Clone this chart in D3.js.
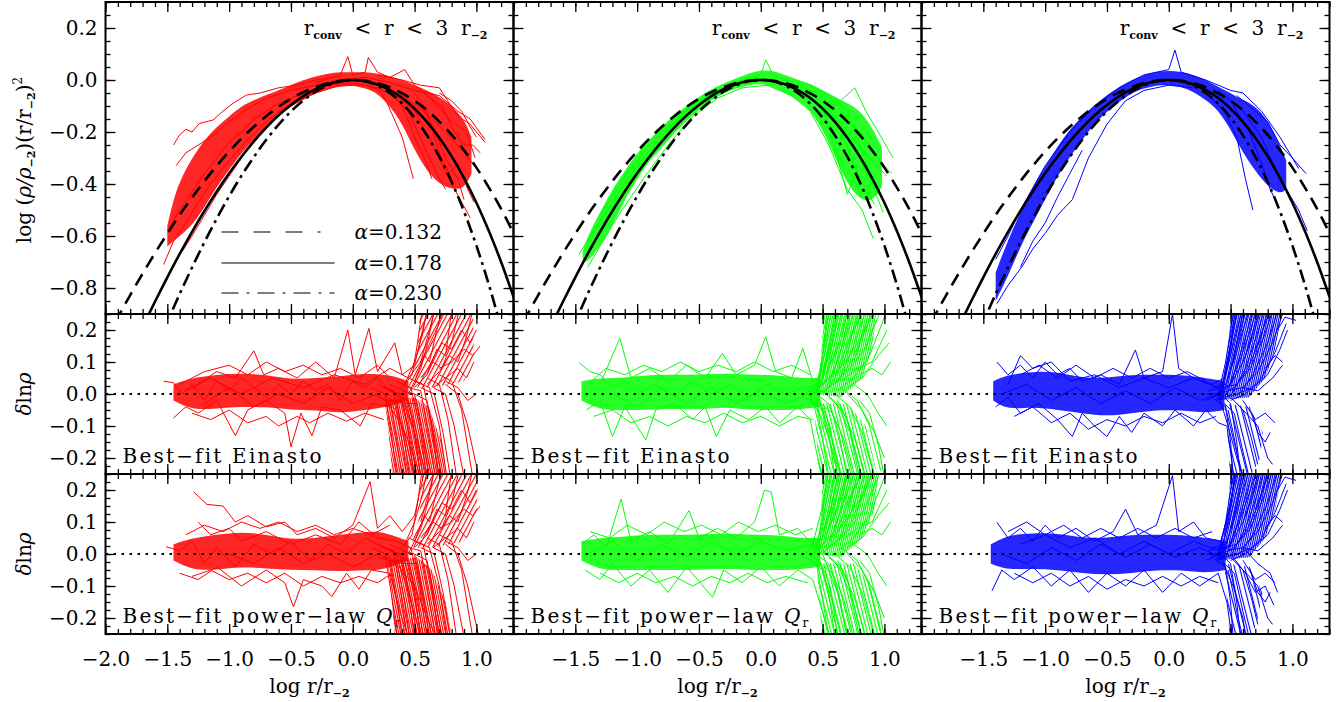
<!DOCTYPE html>
<html>
<head>
<meta charset="utf-8">
<script src="https://cdn.jsdelivr.net/npm/d3@7"></script>
<style>
body { margin: 0; background: #fff; }
text { font-family: "DejaVu Serif", serif; }
</style>
</head>
<body>
<svg id="fig" width="1339" height="702"></svg>
<script>
// ---- tick values
const xTicksMajor = [-2.0, -1.5, -1.0, -0.5, 0.0, 0.5, 1.0]
const xLabelsLeft = [-2.0, -1.5, -1.0, -0.5, 0.0, 0.5, 1.0]
const xLabelsOther = [-1.5, -1.0, -0.5, 0.0, 0.5, 1.0]
const yTicksTop = [-0.8, -0.6, -0.4, -0.2, 0.0, 0.2]
const yTicksRes = [-0.2, -0.1, 0.0, 0.1, 0.2]

// ---- Einasto reference curves (log r/r-2 -> value)
const einX = [-2.0,-1.9,-1.8,-1.7,-1.6,-1.5,-1.4,-1.3,-1.2,-1.1,-1.0,-0.9,-0.8,-0.7,-0.6,-0.5,-0.4,-0.3,-0.2,-0.1,0.0,0.1,0.2,0.3,0.4,0.5,0.6,0.7,0.8,0.9,1.0,1.1,1.2,1.3]
const ein132 = [-1.003,-0.913,-0.827,-0.745,-0.666,-0.591,-0.519,-0.452,-0.389,-0.330,-0.275,-0.225,-0.180,-0.139,-0.103,-0.072,-0.047,-0.027,-0.012,-0.003,0,-0.003,-0.012,-0.028,-0.051,-0.080,-0.116,-0.160,-0.211,-0.270,-0.337,-0.413,-0.496,-0.589]
const ein178 = [-1.270,-1.160,-1.054,-0.951,-0.853,-0.759,-0.669,-0.584,-0.504,-0.429,-0.359,-0.295,-0.236,-0.183,-0.136,-0.096,-0.062,-0.035,-0.016,-0.004,0,-0.004,-0.017,-0.039,-0.069,-0.110,-0.161,-0.222,-0.294,-0.377,-0.472,-0.580,-0.700,-0.834]
const ein230 = [-1.533,-1.404,-1.279,-1.159,-1.042,-0.930,-0.823,-0.721,-0.624,-0.533,-0.447,-0.368,-0.296,-0.230,-0.172,-0.121,-0.079,-0.045,-0.021,-0.005,0,-0.005,-0.022,-0.050,-0.091,-0.145,-0.213,-0.295,-0.392,-0.506,-0.637,-0.786,-0.954,-1.142]
const alphaLabels = ['0.132', '0.178', '0.230']

// ---- profile bundles: dense core [x, lo, hi] + individual haloes [x, y]
const redTopBand = [[-1.5,-0.64,-0.56],[-1.45,-0.62,-0.46],[-1.4,-0.6,-0.39],[-1.3,-0.56,-0.3],[-1.2,-0.49,-0.23],[-1.1,-0.41,-0.18],[-1.0,-0.345,-0.14],[-0.9,-0.28,-0.1],[-0.8,-0.23,-0.077],[-0.7,-0.18,-0.058],[-0.6,-0.14,-0.04],[-0.5,-0.1,-0.019],[-0.4,-0.077,0.0],[-0.3,-0.051,0.013],[-0.2,-0.032,0.026],[-0.1,-0.026,0.03],[0.0,-0.02,0.03],[0.1,-0.032,0.03],[0.2,-0.05,0.026],[0.3,-0.1,0.013],[0.4,-0.167,0.0],[0.5,-0.27,-0.019],[0.6,-0.35,-0.04],[0.7,-0.4,-0.064],[0.8,-0.42,-0.1],[0.9,-0.42,-0.15],[0.96,-0.36,-0.22]]
const redTopLines = [
  [[-1.45,-0.25],[-1.4,-0.21],[-1.35,-0.19],[-1.3,-0.2],[-1.24,-0.167],[-1.13,-0.154],[-1.05,-0.12],[-0.97,-0.09],[-0.86,-0.058],[-0.75,-0.05],[-0.6,-0.03],[-0.45,-0.02],[-0.3,0.0],[-0.15,0.01]],
  [[-1.43,-0.33],[-1.35,-0.28],[-1.25,-0.25],[-1.15,-0.22],[-1.0,-0.16],[-0.85,-0.11],[-0.7,-0.07],[-0.5,-0.04],[-0.3,-0.02],[-0.1,0.0],[0.1,0.01],[0.3,-0.01],[0.5,-0.04],[0.7,-0.06],[0.85,-0.12],[0.95,-0.15],[1.07,-0.23]],
  [[-1.53,-0.71],[-1.45,-0.62],[-1.35,-0.55],[-1.25,-0.47],[-1.15,-0.40],[-1.0,-0.31],[-0.85,-0.23],[-0.7,-0.16],[-0.5,-0.09],[-0.3,-0.05],[-0.1,-0.02],[0.1,-0.02],[0.3,-0.05],[0.45,-0.12],[0.6,-0.28],[0.7,-0.38],[0.75,-0.42]],
  [[-0.2,-0.02],[0.0,-0.01],[0.2,-0.03],[0.27,-0.08],[0.4,-0.22],[0.49,-0.38]],
  [[0.3,-0.04],[0.5,-0.12],[0.65,-0.25],[0.8,-0.4],[0.95,-0.53]],
  [[0.2,0.02],[0.4,0.0],[0.55,-0.02],[0.7,-0.03],[0.85,-0.14],[0.95,-0.17],[1.0,-0.2],[1.07,-0.24]],
  [[-0.3,-0.01],[-0.1,0.02],[-0.04,0.09],[0.0,0.02],[0.1,0.03],[0.126,0.087],[0.2,0.03],[0.3,0.01],[0.42,0.04],[0.5,-0.02],[0.65,-0.08],[0.8,-0.16],[0.92,-0.2],[0.99,-0.3]],
  [[-1.5,-0.58],[-1.4,-0.5],[-1.3,-0.43],[-1.2,-0.36],[-1.1,-0.3],[-1.0,-0.24],[-0.9,-0.2],[-0.8,-0.15],[-0.6,-0.09],[-0.4,-0.05],[-0.2,-0.02],[0.0,0.0],[0.2,-0.02],[0.4,-0.06],[0.6,-0.13],[0.75,-0.2],[0.9,-0.28],[1.0,-0.34]],
  [[0.5,-0.05],[0.6,-0.12],[0.7,-0.28],[0.78,-0.36],[0.85,-0.32],[0.93,-0.42],[0.98,-0.47]],
  [[0.6,-0.06],[0.72,-0.1],[0.82,-0.2],[0.9,-0.25],[0.97,-0.25],[1.03,-0.28]],
  [[-1.38,-0.66],[-1.3,-0.6],[-1.2,-0.52],[-1.1,-0.44],[-1.0,-0.37],[-0.9,-0.3]],
  [[0.3,-0.03],[0.4,-0.1],[0.5,-0.22],[0.58,-0.3],[0.64,-0.38]],
  [[0.55,-0.1],[0.65,-0.18],[0.75,-0.3],[0.85,-0.38],[0.9,-0.46]],
  [[0.7,-0.05],[0.8,-0.08],[0.88,-0.12],[0.95,-0.18],[1.0,-0.22]]
]

const greenTopBand = [[-1.44,-0.70,-0.66],[-1.4,-0.70,-0.60],[-1.3,-0.64,-0.51],[-1.2,-0.56,-0.42],[-1.1,-0.46,-0.35],[-1.0,-0.38,-0.28],[-0.9,-0.31,-0.23],[-0.8,-0.26,-0.18],[-0.7,-0.205,-0.135],[-0.6,-0.155,-0.10],[-0.5,-0.115,-0.064],[-0.4,-0.077,-0.036],[-0.3,-0.05,-0.013],[-0.2,-0.032,0.006],[-0.1,-0.02,0.025],[0.0,-0.013,0.038],[0.1,-0.026,0.036],[0.2,-0.05,0.019],[0.3,-0.077,0.0],[0.4,-0.115,-0.013],[0.5,-0.19,-0.04],[0.6,-0.295,-0.064],[0.7,-0.40,-0.09],[0.8,-0.46,-0.115],[0.9,-0.47,-0.18],[0.98,-0.41,-0.26]]
const greenTopLines = [
  [[-1.47,-0.67],[-1.35,-0.58],[-1.2,-0.47],[-1.0,-0.33],[-0.8,-0.21],[-0.6,-0.12],[-0.4,-0.05],[-0.2,-0.01],[0.0,0.02],[0.04,0.077],[0.1,0.02],[0.3,-0.02],[0.45,-0.05],[0.6,-0.1],[0.76,-0.03],[0.85,-0.12],[0.95,-0.2],[1.07,-0.3]],
  [[-1.4,-0.72],[-1.3,-0.64],[-1.15,-0.52],[-0.95,-0.38],[-0.75,-0.25],[-0.55,-0.14],[-0.35,-0.07],[-0.15,-0.03],[0.05,-0.02],[0.25,-0.06],[0.4,-0.12],[0.55,-0.25],[0.7,-0.42],[0.82,-0.5],[0.91,-0.61]],
  [[0.3,-0.03],[0.5,-0.08],[0.65,-0.18],[0.8,-0.3],[0.9,-0.4],[0.99,-0.51]],
  [[0.4,-0.02],[0.55,-0.06],[0.7,-0.15],[0.8,-0.2],[0.9,-0.27],[1.0,-0.33],[1.06,-0.36]],
  [[0.5,-0.1],[0.62,-0.3],[0.7,-0.44],[0.75,-0.38],[0.82,-0.45]],
  [[-1.3,-0.52],[-1.1,-0.37],[-0.9,-0.25],[-0.7,-0.15],[-0.5,-0.08],[-0.3,-0.03],[-0.1,0.01],[0.1,0.0],[0.3,-0.04],[0.5,-0.1],[0.7,-0.2],[0.9,-0.31],[1.02,-0.37]],
  [[0.6,-0.07],[0.7,-0.12],[0.8,-0.25],[0.88,-0.35],[0.95,-0.44]],
  [[0.65,-0.2],[0.75,-0.32],[0.85,-0.42],[0.92,-0.48]]
]

const blueTopBand = [[-1.4,-0.85,-0.74],[-1.3,-0.756,-0.615],[-1.2,-0.64,-0.51],[-1.1,-0.55,-0.41],[-1.0,-0.46,-0.333],[-0.9,-0.37,-0.256],[-0.8,-0.295,-0.19],[-0.7,-0.23,-0.14],[-0.6,-0.167,-0.096],[-0.5,-0.122,-0.058],[-0.4,-0.083,-0.026],[-0.3,-0.05,0.0],[-0.2,-0.032,0.02],[-0.1,-0.02,0.032],[0.0,-0.02,0.036],[0.1,-0.026,0.032],[0.2,-0.045,0.02],[0.3,-0.077,0.0],[0.4,-0.115,-0.026],[0.5,-0.19,-0.05],[0.6,-0.28,-0.077],[0.7,-0.35,-0.10],[0.8,-0.41,-0.154],[0.9,-0.44,-0.25],[0.95,-0.42,-0.31]]
const blueTopLines = [
  [[-1.39,-0.86],[-1.3,-0.79],[-1.19,-0.72],[-1.1,-0.65],[-1.0,-0.59],[-0.9,-0.52],[-0.78,-0.46],[-0.65,-0.3],[-0.5,-0.17],[-0.35,-0.08],[-0.2,-0.04],[0.0,-0.02],[0.2,-0.03]],
  [[-1.4,-0.69],[-1.3,-0.6],[-1.2,-0.5],[-1.0,-0.33],[-0.8,-0.2],[-0.6,-0.1],[-0.4,-0.03],[-0.2,0.02],[0.0,0.04],[0.05,0.115],[0.1,0.03],[0.3,0.0],[0.5,-0.04],[0.6,-0.05],[0.75,-0.12],[0.9,-0.22],[1.0,-0.3],[1.11,-0.36]],
  [[0.3,-0.05],[0.45,-0.12],[0.55,-0.22],[0.62,-0.38],[0.68,-0.5]],
  [[0.4,-0.04],[0.6,-0.12],[0.75,-0.22],[0.85,-0.33],[0.95,-0.42],[1.05,-0.5],[1.12,-0.58]],
  [[0.5,-0.08],[0.65,-0.2],[0.75,-0.32],[0.82,-0.42],[0.88,-0.48]],
  [[0.55,-0.06],[0.7,-0.12],[0.8,-0.16],[0.9,-0.25],[1.0,-0.3],[1.05,-0.34]],
  [[-1.2,-0.72],[-1.1,-0.62],[-1.0,-0.55],[-0.9,-0.45],[-0.8,-0.36],[-0.7,-0.27]]
]

// ---- residuals: fans beyond r_-2 (same haloes in both residual rows)
const redFanLines = [
  [[0.15,0.02],[0.26,0.0],[0.31,-0.12],[0.36,-0.26]],
  [[0.2,-0.01],[0.3,-0.02],[0.35,-0.13],[0.4,-0.26]],
  [[0.2,0.03],[0.33,0.01],[0.38,-0.1],[0.44,-0.26]],
  [[0.25,0.0],[0.36,-0.03],[0.42,-0.15],[0.46,-0.26]],
  [[0.25,0.02],[0.38,0.0],[0.44,-0.1],[0.5,-0.26]],
  [[0.3,-0.02],[0.4,-0.02],[0.47,-0.14],[0.52,-0.26]],
  [[0.3,0.03],[0.42,0.01],[0.48,-0.08],[0.55,-0.26]],
  [[0.35,0.0],[0.45,-0.02],[0.52,-0.13],[0.57,-0.26]],
  [[0.35,0.04],[0.47,0.02],[0.54,-0.1],[0.6,-0.26]],
  [[0.4,0.01],[0.5,0.0],[0.56,-0.12],[0.62,-0.26]],
  [[0.4,-0.03],[0.52,-0.03],[0.58,-0.15],[0.64,-0.26]],
  [[0.45,0.02],[0.55,0.01],[0.6,-0.1],[0.67,-0.26]],
  [[0.45,0.05],[0.57,0.03],[0.63,-0.09],[0.7,-0.26]],
  [[0.5,0.0],[0.6,-0.02],[0.66,-0.13],[0.72,-0.26]],
  [[0.5,0.04],[0.62,0.02],[0.7,-0.1],[0.76,-0.26]],
  [[0.55,0.02],[0.66,0.0],[0.73,-0.12],[0.79,-0.26]],
  [[0.6,0.05],[0.7,0.03],[0.77,-0.08],[0.84,-0.26]],
  [[0.65,0.02],[0.75,0.0],[0.82,-0.1],[0.9,-0.26]],
  [[0.7,0.06],[0.8,0.04],[0.88,-0.05],[0.97,-0.26]],
  [[0.75,0.03],[0.85,0.0],[0.93,-0.1],[1.02,-0.26]],
  [[0.3,0.01],[0.4,0.0],[0.45,-0.06],[0.5,-0.12],[0.55,-0.26]],
  [[0.55,-0.02],[0.62,-0.05],[0.66,-0.16],[0.69,-0.26]],
  [[0.4,0.02],[0.48,0.06],[0.52,0.15],[0.56,0.26]],
  [[0.42,0.03],[0.5,0.1],[0.56,0.18],[0.6,0.26]],
  [[0.45,0.0],[0.55,0.08],[0.6,0.15],[0.66,0.26]],
  [[0.5,0.04],[0.58,0.12],[0.62,0.1],[0.68,0.2],[0.72,0.26]],
  [[0.5,0.02],[0.6,0.06],[0.68,0.14],[0.75,0.12],[0.8,0.26]],
  [[0.55,0.05],[0.65,0.1],[0.72,0.08],[0.8,0.16],[0.86,0.26]],
  [[0.6,0.03],[0.7,0.07],[0.78,0.12],[0.85,0.1],[0.92,0.18],[0.97,0.26]],
  [[0.6,0.06],[0.72,0.16],[0.8,0.14],[0.88,0.2],[0.95,0.16],[1.0,0.2]],
  [[0.65,0.02],[0.75,0.05],[0.85,0.08],[0.92,0.05],[0.98,0.1]],
  [[0.7,0.08],[0.8,0.1],[0.9,0.14],[0.97,0.12],[1.03,0.15]],
  [[0.75,0.04],[0.85,0.02],[0.93,-0.02],[1.0,0.0]],
  [[0.55,0.1],[0.62,0.2],[0.66,0.26]]
]
const greenFanLines = [
  [[0.35,0.0],[0.45,0.02],[0.5,0.12],[0.54,0.26]],
  [[0.38,0.02],[0.47,0.03],[0.52,0.14],[0.57,0.26]],
  [[0.4,-0.01],[0.48,0.02],[0.55,0.14],[0.6,0.26]],
  [[0.4,0.02],[0.5,0.05],[0.57,0.15],[0.63,0.26]],
  [[0.42,0.0],[0.52,0.04],[0.6,0.16],[0.66,0.26]],
  [[0.45,0.03],[0.54,0.07],[0.62,0.15],[0.7,0.26]],
  [[0.45,-0.01],[0.56,0.04],[0.65,0.14],[0.73,0.26]],
  [[0.48,0.02],[0.58,0.06],[0.67,0.16],[0.76,0.26]],
  [[0.5,0.0],[0.6,0.05],[0.7,0.13],[0.79,0.26]],
  [[0.5,0.03],[0.62,0.08],[0.72,0.17],[0.82,0.26]],
  [[0.52,0.01],[0.64,0.05],[0.74,0.14],[0.85,0.26]],
  [[0.55,0.02],[0.66,0.06],[0.77,0.12],[0.88,0.26]],
  [[0.55,0.04],[0.68,0.1],[0.8,0.17],[0.92,0.26]],
  [[0.6,0.03],[0.72,0.08],[0.84,0.14],[0.97,0.26]],
  [[0.62,0.01],[0.75,0.05],[0.88,0.12],[1.0,0.24]],
  [[0.65,0.04],[0.78,0.08],[0.9,0.1],[1.02,0.2]],
  [[0.7,0.02],[0.82,0.05],[0.95,0.12],[1.04,0.16]],
  [[0.48,0.06],[0.56,0.12],[0.6,0.2],[0.64,0.26]],
  [[0.58,0.1],[0.66,0.18],[0.7,0.26]],
  [[0.75,0.12],[0.85,0.2],[0.9,0.26]],
  [[0.8,0.06],[0.9,0.08],[0.98,0.06],[1.05,0.1]],
  [[0.68,0.15],[0.78,0.22],[0.82,0.26]],
  [[0.35,-0.01],[0.45,-0.03],[0.5,-0.14],[0.55,-0.26]],
  [[0.38,0.0],[0.48,-0.02],[0.55,-0.12],[0.6,-0.26]],
  [[0.4,-0.02],[0.5,-0.05],[0.58,-0.15],[0.65,-0.26]],
  [[0.45,0.0],[0.55,-0.03],[0.63,-0.12],[0.7,-0.26]],
  [[0.45,-0.02],[0.58,-0.06],[0.67,-0.14],[0.75,-0.26]],
  [[0.5,0.01],[0.62,-0.03],[0.72,-0.12],[0.8,-0.26]],
  [[0.55,-0.01],[0.66,-0.05],[0.76,-0.14],[0.85,-0.26]],
  [[0.6,0.0],[0.72,-0.04],[0.82,-0.12],[0.92,-0.26]],
  [[0.65,0.02],[0.78,-0.02],[0.88,-0.1],[0.97,-0.24]],
  [[0.7,0.0],[0.82,-0.05],[0.92,-0.12],[1.0,-0.2]],
  [[0.75,0.03],[0.86,0.0],[0.95,-0.06],[1.02,-0.1]],
  [[0.5,-0.04],[0.56,-0.1],[0.6,-0.2],[0.62,-0.26]],
  [[0.62,-0.02],[0.7,-0.08],[0.78,-0.2],[0.82,-0.26]],
  [[0.8,-0.02],[0.88,-0.06],[0.95,-0.16],[1.0,-0.26]]
]
const blueFanLines = [
  [[0.3,0.0],[0.4,0.0],[0.46,0.1],[0.5,0.2],[0.53,0.26]],
  [[0.3,-0.02],[0.42,0.0],[0.48,0.1],[0.52,0.2],[0.56,0.26]],
  [[0.32,0.01],[0.43,0.02],[0.5,0.12],[0.55,0.2],[0.59,0.26]],
  [[0.34,-0.01],[0.45,0.01],[0.52,0.1],[0.58,0.2],[0.62,0.26]],
  [[0.35,0.02],[0.46,0.03],[0.54,0.12],[0.6,0.2],[0.65,0.26]],
  [[0.36,-0.02],[0.47,0.0],[0.56,0.1],[0.63,0.19],[0.68,0.26]],
  [[0.38,0.0],[0.48,0.02],[0.58,0.11],[0.66,0.2],[0.71,0.26]],
  [[0.4,0.01],[0.5,0.03],[0.6,0.1],[0.68,0.18],[0.74,0.26]],
  [[0.4,-0.02],[0.51,0.0],[0.62,0.08],[0.71,0.18],[0.77,0.26]],
  [[0.42,0.0],[0.53,0.02],[0.64,0.08],[0.74,0.17],[0.8,0.26]],
  [[0.44,0.02],[0.55,0.03],[0.66,0.08],[0.77,0.18],[0.84,0.26]],
  [[0.45,-0.01],[0.57,0.0],[0.68,0.06],[0.8,0.16],[0.88,0.26]],
  [[0.48,0.01],[0.6,0.02],[0.72,0.07],[0.84,0.16],[0.93,0.26]],
  [[0.5,-0.02],[0.62,0.0],[0.75,0.05],[0.86,0.13],[0.95,0.22]],
  [[0.55,0.0],[0.68,0.02],[0.8,0.06],[0.9,0.14],[0.96,0.2]],
  [[0.6,0.02],[0.72,0.01],[0.84,0.05],[0.92,0.09]],
  [[0.45,0.06],[0.5,0.16],[0.54,0.26]],
  [[0.5,0.08],[0.56,0.18],[0.6,0.26]],
  [[0.62,0.12],[0.7,0.22],[0.73,0.26]],
  [[0.7,0.14],[0.78,0.22],[0.82,0.26]],
  [[0.88,0.2],[0.94,0.24],[1.03,0.23]],
  [[0.78,0.08],[0.86,0.12],[0.92,0.1]],
  [[0.38,-0.02],[0.46,-0.04],[0.5,-0.15],[0.52,-0.26]],
  [[0.42,0.0],[0.5,-0.03],[0.55,-0.15],[0.58,-0.26]],
  [[0.45,-0.03],[0.53,-0.06],[0.6,-0.18],[0.65,-0.26]],
  [[0.5,-0.01],[0.6,-0.05],[0.67,-0.14],[0.72,-0.22]],
  [[0.55,-0.03],[0.65,-0.07],[0.72,-0.1],[0.8,-0.2],[0.84,-0.22]],
  [[0.6,-0.02],[0.7,-0.08],[0.78,-0.06],[0.86,-0.09]],
  [[0.48,-0.05],[0.52,-0.12],[0.56,-0.2],[0.6,-0.26]],
  [[0.65,-0.04],[0.72,-0.12],[0.78,-0.15],[0.82,-0.12]]
]

// ---- residuals, best-fit Einasto
const redEinBand = [[-1.45,-0.02,0.03],[-1.3,-0.05,0.05],[-1.1,-0.045,0.06],[-0.9,-0.04,0.065],[-0.7,-0.04,0.06],[-0.5,-0.05,0.045],[-0.3,-0.05,0.05],[-0.1,-0.06,0.055],[0.1,-0.05,0.065],[0.3,-0.04,0.06],[0.45,-0.02,0.04]]
const redEinDown = [[0.26,-0.02],[0.5,-0.01],[0.62,-0.05],[0.72,-0.15],[0.78,-0.3],[0.33,-0.3],[0.29,-0.12]]
const redEinUp = [[0.45,0.02],[0.52,0.12],[0.55,0.3],[0.97,0.3],[0.98,0.12],[0.9,0.04],[0.65,0.02]]
const redEinLines = [
  [[-1.53,0.04],[-1.45,0.035],[-1.38,0.0],[-1.3,0.03],[-1.2,-0.02],[-1.1,0.04],[-1.0,0.01],[-0.9,0.05],[-0.8,0.02],[-0.7,-0.01],[-0.6,0.03],[-0.5,0.0],[-0.4,0.04],[-0.3,0.01],[-0.2,0.03],[-0.1,-0.02],[0.0,0.04],[0.1,0.02],[0.2,0.05],[0.3,0.01],[0.4,-0.02],[0.5,-0.12],[0.6,-0.26]],
  [[-1.45,-0.075],[-1.35,-0.04],[-1.25,-0.06],[-1.1,-0.02],[-0.95,-0.13],[-0.85,-0.05],[-0.7,-0.02],[-0.55,-0.06],[-0.5,-0.165],[-0.42,-0.06],[-0.33,-0.13],[-0.25,-0.04],[-0.1,-0.05],[0.06,-0.1],[0.15,-0.03],[0.3,-0.04],[0.4,-0.1],[0.5,-0.26]],
  [[-1.3,0.02],[-1.1,0.07],[-0.95,0.05],[-0.8,0.135],[-0.72,0.06],[-0.6,0.08],[-0.45,0.05],[-0.3,0.1],[-0.15,0.05],[-0.04,0.2],[0.02,0.06],[0.13,0.205],[0.2,0.07],[0.34,0.16],[0.4,0.06],[0.5,0.09],[0.6,0.26]],
  [[-1.2,-0.03],[-1.0,0.02],[-0.8,-0.04],[-0.6,0.0],[-0.4,-0.03],[-0.2,0.02],[0.0,-0.03],[0.2,0.0],[0.35,-0.05],[0.45,-0.15],[0.55,-0.26]],
  [[-1.35,0.01],[-1.15,0.05],[-0.9,0.0],[-0.65,0.05],[-0.4,0.02],[-0.15,0.06],[0.1,0.03],[0.3,0.08],[0.45,0.05],[0.55,0.1],[0.65,0.18],[0.75,0.26]],
  [[-1.4,0.03],[-1.2,0.07],[-1.0,0.09],[-0.85,0.06],[-0.7,0.1],[-0.55,0.07],[-0.4,0.09],[-0.25,0.06],[-0.1,0.08],[0.05,0.05],[0.2,0.09],[0.3,0.05]],
  [[-1.3,-0.06],[-1.15,-0.08],[-1.0,-0.05],[-0.85,-0.09],[-0.7,-0.07],[-0.6,-0.1],[-0.45,-0.07],[-0.35,-0.09],[-0.2,-0.06],[-0.05,-0.085],[0.1,-0.06],[0.25,-0.08]]
]

const greenEinBand = [[-1.45,-0.02,0.04],[-1.3,-0.05,0.05],[-1.1,-0.05,0.05],[-0.9,-0.05,0.06],[-0.7,-0.045,0.06],[-0.5,-0.05,0.06],[-0.3,-0.04,0.065],[-0.1,-0.05,0.06],[0.1,-0.05,0.06],[0.3,-0.05,0.05],[0.48,-0.04,0.05]]
const greenEinUp = [[0.43,0.0],[0.48,0.08],[0.52,0.3],[0.95,0.3],[0.9,0.14],[0.82,0.05],[0.65,-0.01]]
const greenEinDown = [[0.42,-0.03],[0.7,-0.03],[0.85,-0.1],[0.97,-0.3],[0.47,-0.3],[0.45,-0.12]]
const greenEinLines = [
  [[-1.47,0.098],[-1.38,0.07],[-1.3,0.06],[-1.2,0.02],[-1.1,0.04],[-1.0,0.0],[-0.85,0.03],[-0.7,-0.01],[-0.55,0.04],[-0.4,0.0],[-0.25,0.03],[-0.1,-0.01],[0.05,0.03],[0.2,0.0],[0.35,0.02],[0.45,0.0],[0.5,0.12],[0.55,0.26]],
  [[-1.41,-0.05],[-1.3,-0.02],[-1.2,-0.133],[-1.1,-0.04],[-0.93,-0.144],[-0.85,-0.05],[-0.7,-0.03],[-0.55,-0.08],[-0.45,-0.04],[-0.36,-0.133],[-0.25,-0.05],[-0.1,-0.08],[0.04,-0.04],[0.15,-0.09],[0.3,-0.04],[0.4,-0.08],[0.45,-0.18],[0.5,-0.26]],
  [[-1.3,0.03],[-1.14,0.174],[-1.05,0.05],[-0.9,0.08],[-0.75,0.04],[-0.6,0.09],[-0.45,0.05],[-0.31,0.127],[-0.2,0.06],[-0.05,0.09],[0.04,0.179],[0.12,0.07],[0.25,0.05],[0.34,0.143],[0.42,0.04],[0.5,0.06],[0.58,0.2],[0.62,0.26]],
  [[-1.2,0.0],[-1.0,-0.04],[-0.8,0.02],[-0.6,-0.03],[-0.4,0.02],[-0.2,-0.03],[0.0,0.01],[0.2,-0.03],[0.38,0.0],[0.5,-0.08],[0.6,-0.2],[0.65,-0.26]],
  [[-1.4,0.03],[-1.25,0.08],[-1.1,0.06],[-0.95,0.09],[-0.8,0.07],[-0.65,0.1],[-0.5,0.07],[-0.35,0.09],[-0.2,0.07],[-0.05,0.1],[0.1,0.07],[0.25,0.09],[0.4,0.06]],
  [[-1.35,-0.07],[-1.2,-0.05],[-1.05,-0.09],[-0.9,-0.07],[-0.75,-0.1],[-0.6,-0.07],[-0.45,-0.09],[-0.3,-0.06],[-0.15,-0.09],[0.0,-0.07],[0.15,-0.1],[0.3,-0.07],[0.42,-0.08]]
]

const blueEinBand = [[-1.42,-0.02,0.04],[-1.3,-0.05,0.06],[-1.1,-0.04,0.07],[-0.9,-0.05,0.07],[-0.7,-0.06,0.05],[-0.5,-0.07,0.05],[-0.3,-0.06,0.06],[-0.1,-0.05,0.06],[0.1,-0.05,0.06],[0.3,-0.06,0.05],[0.45,-0.05,0.04]]
const blueEinUp = [[0.39,-0.02],[0.44,0.06],[0.48,0.15],[0.52,0.3],[0.94,0.3],[0.86,0.14],[0.78,0.05],[0.65,-0.01]]
const blueEinDown = [[0.45,-0.03],[0.65,-0.04],[0.76,-0.12],[0.74,-0.2],[0.6,-0.3],[0.5,-0.3],[0.48,-0.15]]
const blueEinLines = [
  [[-1.39,0.1],[-1.3,0.06],[-1.2,0.09],[-1.1,0.05],[-1.0,0.1],[-0.9,0.06],[-0.8,0.08],[-0.7,0.04],[-0.55,0.06],[-0.4,0.03],[-0.27,0.1375],[-0.2,0.05],[-0.05,0.07],[0.03,0.25],[0.08,0.08],[0.2,0.05],[0.35,0.03],[0.45,0.05],[0.5,0.14],[0.55,0.26]],
  [[-1.4,-0.04],[-1.3,-0.01],[-1.2,-0.06],[-1.05,-0.03],[-0.9,-0.08],[-0.78,-0.133],[-0.7,-0.06],[-0.6,-0.1],[-0.5,-0.133],[-0.4,-0.07],[-0.3,-0.12],[-0.2,-0.06],[-0.05,-0.1],[0.05,-0.05],[0.2,-0.1],[0.3,-0.05],[0.4,-0.09],[0.47,-0.1],[0.52,-0.24],[0.54,-0.26]],
  [[-1.35,0.0],[-1.15,0.03],[-0.95,-0.02],[-0.75,0.02],[-0.55,-0.03],[-0.35,0.01],[-0.15,-0.03],[0.05,0.02],[0.25,-0.02],[0.4,0.0],[0.48,-0.1],[0.55,-0.2],[0.6,-0.26]],
  [[-1.3,0.03],[-1.2,0.12],[-1.1,0.08],[-0.95,0.1],[-0.8,0.04],[-0.6,0.06],[-0.4,0.02],[-0.2,0.05],[0.0,0.02],[0.2,0.05],[0.4,0.02]],
  [[-1.25,-0.07],[-1.1,-0.04],[-0.95,-0.09],[-0.8,-0.06],[-0.65,-0.11],[-0.5,-0.08],[-0.35,-0.1],[-0.2,-0.07],[-0.05,-0.09],[0.1,-0.06],[0.25,-0.09],[0.38,-0.07]],
  [[-1.2,0.06],[-1.05,0.09],[-0.9,0.05],[-0.75,0.09],[-0.6,0.05],[-0.45,0.08],[-0.3,0.05],[-0.15,0.08],[0.0,0.05],[0.15,0.07],[0.3,0.04]]
]

// ---- residuals, best-fit power-law Q_r
const redQBand = [[-1.45,-0.02,0.03],[-1.3,-0.05,0.05],[-1.1,-0.05,0.06],[-0.9,-0.04,0.07],[-0.7,-0.045,0.06],[-0.5,-0.05,0.045],[-0.3,-0.05,0.05],[-0.1,-0.055,0.06],[0.1,-0.05,0.07],[0.25,-0.05,0.07],[0.45,-0.02,0.04]]
const redQDown = [[0.28,-0.02],[0.52,-0.01],[0.64,-0.05],[0.75,-0.15],[0.82,-0.3],[0.35,-0.3],[0.31,-0.12]]
const redQUp = [[0.47,0.02],[0.54,0.12],[0.57,0.3],[1.02,0.3],[1.0,0.12],[0.9,0.04],[0.65,0.02]]
const redQLines = [
  [[-1.51,0.023],[-1.4,0.01],[-1.3,0.04],[-1.2,-0.03],[-1.1,0.02],[-0.95,-0.04],[-0.8,0.03],[-0.65,0.0],[-0.5,0.04],[-0.35,-0.02],[-0.2,0.03],[-0.05,0.0],[0.1,0.05],[0.25,0.02],[0.35,0.0],[0.45,-0.12],[0.55,-0.26]],
  [[-1.29,0.195],[-1.18,0.155],[-1.05,0.15],[-0.95,0.1],[-0.85,0.12],[-0.7,0.085],[-0.55,0.1],[-0.45,0.06],[-0.3,0.08],[-0.15,0.05],[0.0,0.09],[0.14,0.226],[0.2,0.08],[0.3,0.12],[0.4,0.07],[0.5,0.12],[0.58,0.26]],
  [[-1.25,0.1],[-1.15,0.06],[-1.0,0.08],[-0.9,0.04],[-0.7,0.07],[-0.5,0.03],[-0.3,0.06],[-0.1,0.03],[0.05,0.1],[0.2,0.05],[0.35,0.04]],
  [[-1.4,-0.06],[-1.25,-0.08],[-1.1,-0.04],[-0.9,-0.1],[-0.7,-0.05],[-0.55,-0.09],[-0.48,-0.165],[-0.4,-0.08],[-0.25,-0.1],[-0.17,-0.133],[-0.05,-0.06],[0.05,-0.11],[0.15,-0.05],[0.3,-0.06],[0.38,-0.18],[0.45,-0.26]],
  [[-1.0,0.0],[-0.8,-0.03],[-0.6,0.02],[-0.4,-0.03],[-0.2,0.0],[0.0,-0.04],[0.2,0.0],[0.35,-0.03],[0.5,-0.1],[0.6,-0.2],[0.68,-0.26]],
  [[-1.35,0.06],[-1.2,0.09],[-1.05,0.07],[-0.9,0.1],[-0.75,0.08],[-0.6,0.1],[-0.45,0.07],[-0.3,0.09],[-0.15,0.06],[0.0,0.08],[0.15,0.06],[0.3,0.09]],
  [[-1.3,-0.07],[-1.15,-0.05],[-1.0,-0.08],[-0.85,-0.06],[-0.7,-0.09],[-0.55,-0.06],[-0.4,-0.1],[-0.25,-0.07],[-0.1,-0.09],[0.05,-0.07],[0.2,-0.09],[0.32,-0.06]]
]

const greenQBand = [[-1.45,-0.02,0.04],[-1.3,-0.05,0.05],[-1.1,-0.05,0.055],[-0.9,-0.05,0.06],[-0.7,-0.05,0.06],[-0.5,-0.05,0.06],[-0.3,-0.045,0.065],[-0.1,-0.05,0.06],[0.1,-0.05,0.06],[0.3,-0.05,0.05],[0.48,-0.04,0.05]]
const greenQUp = [[0.43,0.0],[0.48,0.08],[0.51,0.3],[0.97,0.3],[0.92,0.14],[0.82,0.05],[0.65,-0.01]]
const greenQDown = [[0.45,-0.03],[0.75,-0.03],[0.9,-0.1],[1.02,-0.3],[0.5,-0.3],[0.47,-0.12]]
const greenQLines = [
  [[-1.45,0.03],[-1.35,0.06],[-1.25,0.02],[-1.13,0.172],[-1.05,0.04],[-0.9,0.07],[-0.75,0.03],[-0.58,0.136],[-0.5,0.05],[-0.35,0.08],[-0.2,0.05],[-0.05,0.1],[0.03,0.2],[0.085,0.193],[0.15,0.06],[0.3,0.08],[0.42,0.03],[0.5,0.15],[0.55,0.26]],
  [[-1.42,-0.05],[-1.3,-0.08],[-1.2,-0.03],[-1.05,-0.1],[-0.9,-0.05],[-0.75,-0.12],[-0.6,-0.04],[-0.39,-0.135],[-0.3,-0.05],[-0.15,-0.09],[0.0,-0.04],[0.15,-0.1],[0.3,-0.05],[0.42,-0.08],[0.5,-0.18],[0.56,-0.26]],
  [[-1.4,0.0],[-1.2,0.04],[-1.0,-0.02],[-0.8,0.03],[-0.6,-0.01],[-0.4,0.04],[-0.2,0.0],[0.0,0.04],[0.2,0.01],[0.4,0.03],[0.5,0.0],[0.62,-0.12],[0.7,-0.26]],
  [[-1.38,0.07],[-1.22,0.05],[-1.08,0.09],[-0.92,0.06],[-0.78,0.1],[-0.62,0.07],[-0.48,0.09],[-0.32,0.06],[-0.18,0.1],[-0.02,0.07],[0.12,0.09],[0.28,0.06],[0.42,0.08]],
  [[-1.3,-0.06],[-1.15,-0.09],[-1.0,-0.06],[-0.85,-0.09],[-0.7,-0.07],[-0.55,-0.1],[-0.4,-0.07],[-0.25,-0.09],[-0.1,-0.06],[0.05,-0.09],[0.2,-0.07],[0.38,-0.09]]
]

const blueQBand = [[-1.44,-0.03,0.03],[-1.3,-0.05,0.06],[-1.1,-0.045,0.065],[-0.9,-0.05,0.065],[-0.7,-0.06,0.05],[-0.5,-0.065,0.05],[-0.3,-0.06,0.06],[-0.1,-0.05,0.06],[0.1,-0.05,0.06],[0.3,-0.06,0.05],[0.46,-0.05,0.04]]
const blueQUp = [[0.39,-0.02],[0.44,0.06],[0.48,0.15],[0.51,0.3],[0.94,0.3],[0.86,0.14],[0.78,0.05],[0.65,-0.01]]
const blueQDown = [[0.45,-0.03],[0.65,-0.04],[0.76,-0.12],[0.72,-0.2],[0.64,-0.3],[0.5,-0.3]]
const blueQLines = [
  [[-1.39,0.099],[-1.3,0.05],[-1.2,0.08],[-1.1,0.04],[-1.0,0.09],[-0.9,0.05],[-0.75,0.08],[-0.6,0.04],[-0.45,0.07],[-0.35,0.14],[-0.25,0.06],[-0.1,0.09],[0.03,0.245],[0.08,0.07],[0.2,0.1],[0.3,0.05],[0.42,0.04],[0.5,0.15],[0.54,0.26]],
  [[-1.43,-0.115],[-1.35,-0.05],[-1.25,-0.08],[-1.1,-0.04],[-0.95,-0.1],[-0.8,-0.05],[-0.65,-0.12],[-0.5,-0.06],[-0.35,-0.1],[-0.2,-0.05],[-0.05,-0.12],[0.1,-0.06],[0.25,-0.1],[0.4,-0.06],[0.47,-0.15],[0.51,-0.26]],
  [[-1.35,0.0],[-1.15,-0.03],[-0.95,0.02],[-0.75,-0.02],[-0.55,0.03],[-0.35,-0.01],[-0.15,0.03],[0.05,-0.01],[0.25,0.02],[0.42,-0.01],[0.52,-0.1],[0.6,-0.2],[0.62,-0.26]],
  [[0.5,0.0],[0.62,-0.06],[0.7,-0.12],[0.78,-0.1],[0.85,-0.16]],
  [[0.6,0.02],[0.72,-0.03],[0.82,-0.06],[0.88,-0.12]],
  [[-1.2,0.03],[-1.0,0.06],[-0.8,0.02],[-0.6,0.05],[-0.4,0.0],[-0.2,0.04],[0.0,0.0],[0.2,0.04],[0.4,0.01]],
  [[-1.3,0.07],[-1.15,0.1],[-1.0,0.06],[-0.85,0.09],[-0.7,0.05],[-0.55,0.08],[-0.4,0.05],[-0.25,0.08],[-0.1,0.05],[0.05,0.08],[0.2,0.05],[0.35,0.07]],
  [[-1.25,-0.06],[-1.1,-0.09],[-0.95,-0.06],[-0.8,-0.1],[-0.65,-0.07],[-0.5,-0.11],[-0.35,-0.08],[-0.2,-0.1],[-0.05,-0.07],[0.1,-0.1],[0.25,-0.07],[0.4,-0.09]]
]

// ---- layout
const svg = d3.select('#fig')
const L0 = 105.5, W = 408
const rows = [
  {top: 2, bottom: 314, domain: [-0.9, 0.3], major: yTicksTop, minorStep: 0.05},
  {top: 314, bottom: 474, domain: [-0.25, 0.25], major: yTicksRes, minorStep: 0.025},
  {top: 474, bottom: 634, domain: [-0.25, 0.25], major: yTicksRes, minorStep: 0.025}
]
// fan hatching: angle of the streaks (deg from vertical) and streak spacing in px
const down = {angle: -11, gap: 2.0}, upSteep = {angle: 12, gap: 1.9}
const upLoose = {angle: 28, gap: 4.2}, downLoose = {angle: -14, gap: 3.2}
const columns = [
  {color: '#ff0000', xLabels: xLabelsLeft, panels: [
    {band: redTopBand, lines: redTopLines, fans: []},
    {band: redEinBand, lines: redFanLines.concat(redEinLines), fans: [{pts: redEinDown, ...down}, {pts: redEinUp, ...upLoose}]},
    {band: redQBand, lines: redFanLines.concat(redQLines), fans: [{pts: redQDown, ...down}, {pts: redQUp, ...upLoose}]}]},
  {color: '#00ff00', xLabels: xLabelsOther, panels: [
    {band: greenTopBand, lines: greenTopLines, fans: []},
    {band: greenEinBand, lines: greenFanLines.concat(greenEinLines), fans: [{pts: greenEinUp, ...upSteep}, {pts: greenEinDown, ...downLoose}]},
    {band: greenQBand, lines: greenFanLines.concat(greenQLines), fans: [{pts: greenQUp, ...upSteep}, {pts: greenQDown, ...downLoose}]}]},
  {color: '#0000ff', xLabels: xLabelsOther, panels: [
    {band: blueTopBand, lines: blueTopLines, fans: []},
    {band: blueEinBand, lines: blueFanLines.concat(blueEinLines), fans: [{pts: blueEinUp, ...upSteep}, {pts: blueEinDown, angle: -14, gap: 5}]},
    {band: blueQBand, lines: blueFanLines.concat(blueQLines), fans: [{pts: blueQUp, ...upSteep}, {pts: blueQDown, angle: -14, gap: 5}]}]}
]

const fmt = d3.format('.1f')
const near = (arr, v) => arr.some(a => Math.abs(a - v) < 1e-6)
const steps = (a, b, s) => d3.range(Math.round((b - a) / s) + 1).map(i => +(a + i * s).toFixed(4))
const xMinor = steps(-2.0, 1.3, 0.1)

function styleAxis(a) {
  a.select('.domain').remove()
  a.attr('font-family', '"DejaVu Serif", serif').attr('font-size', 20)
  a.selectAll('line').attr('stroke', '#000').attr('stroke-width', 1.3)
  a.selectAll('text').attr('fill', '#000')
}

function addAxes(g, x, y, row, xLabels, showY) {
  const [yb, yt] = y.range()
  const [xl, xr] = x.range()
  const yMinor = steps(row.domain[0], row.domain[1], row.minorStep)
  g.append('g').attr('transform', `translate(0,${yb})`)
    .call(d3.axisBottom(x).tickValues(xTicksMajor).tickSize(-10).tickPadding(18)
      .tickFormat(d => xLabels && near(xLabels, d) ? fmt(d) : '')).call(styleAxis)
  g.append('g').attr('transform', `translate(0,${yb})`)
    .call(d3.axisBottom(x).tickValues(xMinor).tickSize(-5).tickFormat('')).call(styleAxis)
  g.append('g').attr('transform', `translate(0,${yt})`)
    .call(d3.axisTop(x).tickValues(xTicksMajor).tickSize(-10).tickFormat('')).call(styleAxis)
  g.append('g').attr('transform', `translate(0,${yt})`)
    .call(d3.axisTop(x).tickValues(xMinor).tickSize(-5).tickFormat('')).call(styleAxis)
  g.append('g').attr('transform', `translate(${xl},0)`)
    .call(d3.axisLeft(y).tickValues(row.major).tickSize(-10).tickPadding(8)
      .tickFormat(showY ? fmt : '')).call(styleAxis)
  g.append('g').attr('transform', `translate(${xl},0)`)
    .call(d3.axisLeft(y).tickValues(yMinor).tickSize(-5).tickFormat('')).call(styleAxis)
  g.append('g').attr('transform', `translate(${xr},0)`)
    .call(d3.axisRight(y).tickValues(row.major).tickSize(-10).tickFormat('')).call(styleAxis)
  g.append('g').attr('transform', `translate(${xr},0)`)
    .call(d3.axisRight(y).tickValues(yMinor).tickSize(-5).tickFormat('')).call(styleAxis)
}

const curveStyles = [
  {vals: ein132, dash: '13,8'},
  {vals: ein178, dash: null},
  {vals: ein230, dash: '13,5,3,5'}
]

const defs = svg.append('defs')

// streaky fill that reads like a bundle of thin profile lines
function hatch(color, angle, gap) {
  const id = ('h' + color.slice(1) + '_' + angle + '_' + gap).replace(/[.\-]/g, 'm')
  if (defs.select('#' + id).empty()) {
    const pat = defs.append('pattern').attr('id', id).attr('patternUnits', 'userSpaceOnUse')
      .attr('width', gap).attr('height', 20).attr('patternTransform', `rotate(${angle})`)
    pat.append('rect').attr('width', 1.1).attr('height', 20).attr('fill', color)
  }
  return `url(#${id})`
}

columns.forEach((col, ci) => {
  const left = L0 + ci * W
  const x = d3.scaleLinear().domain([-2.0, 1.3]).range([left, left + W])
  rows.forEach((row, ri) => {
    const y = d3.scaleLinear().domain(row.domain).range([row.bottom, row.top])
    const p = col.panels[ri]
    const id = `clip${ci}${ri}`
    defs.append('clipPath').attr('id', id).append('rect')
      .attr('x', left).attr('y', row.top).attr('width', W).attr('height', row.bottom - row.top)
    const g = svg.append('g')
    const inner = g.append('g').attr('clip-path', `url(#${id})`)

    // panel caption (drawn under the profiles)
    if (ri > 0) {
      const t = inner.append('text').attr('x', left + 17).attr('y', row.bottom - 11)
        .attr('font-size', 20).attr('letter-spacing', 2.2).style('white-space', 'pre')
      if (ri === 1) {
        t.text('Best\u2212fit Einasto')
      } else {
        t.append('tspan').text('Best\u2212fit power\u2212law ')
        t.append('tspan').attr('font-style', 'italic').text('Q')
        t.append('tspan').attr('font-size', 12).attr('dy', 4).text('r')
      }
    }

    const area = d3.area().x(d => x(d[0])).y0(d => y(d[1])).y1(d => y(d[2])).curve(d3.curveBasis)
    inner.append('path').datum(p.band).attr('d', area)
      .attr('fill', col.color).attr('fill-opacity', 0.85)
    const blob = d3.line().x(d => x(d[0])).y(d => y(d[1])).curve(d3.curveLinearClosed)
    inner.selectAll('path.fan').data(p.fans).enter().append('path').attr('class', 'fan')
      .attr('d', d => blob(d.pts)).attr('fill', d => hatch(col.color, d.angle, d.gap))
    const poly = d3.line().x(d => x(d[0])).y(d => y(d[1]))
    inner.selectAll('path.prof').data(p.lines).enter().append('path').attr('class', 'prof')
      .attr('d', poly).attr('fill', 'none').attr('stroke', col.color).attr('stroke-width', 1)

    if (ri === 0) {
      const cl = d3.line().x((d, i) => x(einX[i])).y(d => y(d)).curve(d3.curveCatmullRom)
      curveStyles.forEach(c => {
        inner.append('path').datum(c.vals).attr('d', cl).attr('fill', 'none')
          .attr('stroke', '#000').attr('stroke-width', 2.6)
          .attr('stroke-dasharray', c.dash)
      })
      // range annotation
      const t = g.append('text').attr('x', left + 382).attr('y', 35).attr('text-anchor', 'end')
        .attr('font-size', 20).style('white-space', 'pre')
      t.append('tspan').text('r')
      t.append('tspan').attr('font-size', 11).attr('font-weight', 'bold').attr('dy', 4).text('conv')
      t.append('tspan').attr('dy', -4).text('  <  r  <  3  r')
      t.append('tspan').attr('font-size', 11).attr('font-weight', 'bold').attr('dy', 4).text('\u22122')
    } else {
      inner.append('line').attr('x1', x(-2.0)).attr('x2', x(1.3)).attr('y1', y(0)).attr('y2', y(0))
        .attr('stroke', '#000').attr('stroke-width', 2.2).attr('stroke-dasharray', '2.5,5.5')
    }

    addAxes(g, x, y, row, ri === 2 ? col.xLabels : null, ci === 0)
    g.append('rect').attr('x', left).attr('y', row.top).attr('width', W).attr('height', row.bottom - row.top)
      .attr('fill', 'none').attr('stroke', '#000').attr('stroke-width', 2)
  })

  // x title
  const xt = svg.append('text').attr('x', left + W / 2).attr('y', 693).attr('text-anchor', 'middle')
    .attr('font-size', 20).style('white-space', 'pre')
  xt.append('tspan').text('log r/r')
  xt.append('tspan').attr('font-size', 11).attr('font-weight', 'bold').attr('dy', 4).text('\u22122')
})

// legend in the first panel
const lg = svg.append('g')
const lgRows = [232, 263, 293]
curveStyles.forEach((c, i) => {
  lg.append('line').attr('x1', L0 + 116).attr('x2', L0 + (i === 0 ? 215 : 229))
    .attr('y1', lgRows[i]).attr('y2', lgRows[i])
    .attr('stroke', '#555').attr('stroke-width', 1.3)
    .attr('stroke-dasharray', i === 0 ? '17,15' : (i === 2 ? '17,8,3,8' : null))
  const t = lg.append('text').attr('x', L0 + 249).attr('y', lgRows[i] + 7).attr('font-size', 20)
  t.append('tspan').attr('font-style', 'italic').text('\u03b1')
  t.append('tspan').text('=' + alphaLabels[i])
})

// y titles
const yt1 = svg.append('text').attr('transform', 'translate(31,160) rotate(-90)')
  .attr('text-anchor', 'middle').attr('font-size', 20).style('white-space', 'pre')
yt1.append('tspan').text('log (')
yt1.append('tspan').attr('font-style', 'italic').text('\u03c1/\u03c1')
yt1.append('tspan').attr('font-size', 11).attr('font-weight', 'bold').attr('dy', 4).text('\u22122')
yt1.append('tspan').attr('dy', -4).text(')(r/r')
yt1.append('tspan').attr('font-size', 11).attr('font-weight', 'bold').attr('dy', 4).text('\u22122')
yt1.append('tspan').attr('dy', -4).text(')')
yt1.append('tspan').attr('font-size', 12).attr('dy', -9).text('2')

;[394, 554].forEach(cy => {
  const t = svg.append('text').attr('transform', `translate(31,${cy}) rotate(-90)`)
    .attr('text-anchor', 'middle').attr('font-size', 20)
  t.append('tspan').attr('font-style', 'italic').text('\u03b4')
  t.append('tspan').text('ln')
  t.append('tspan').attr('font-style', 'italic').text('\u03c1')
})
</script>
</body>
</html>
